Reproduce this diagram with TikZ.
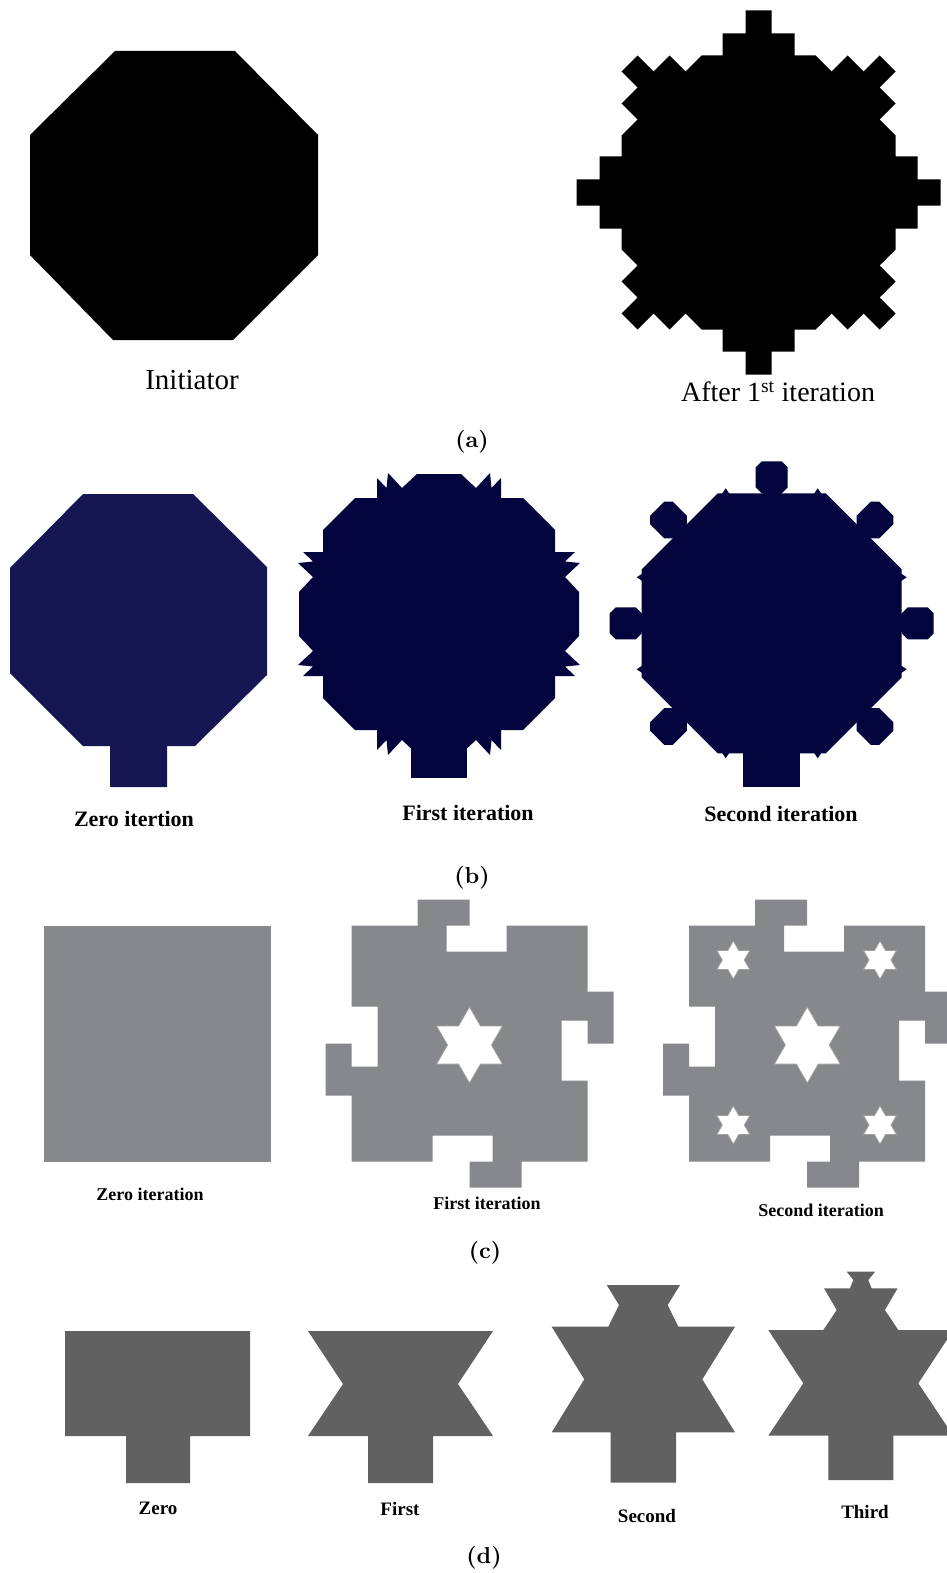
\documentclass[tikz,border=0pt]{standalone}
\usepackage{fontspec}
\newfontfamily\timesf{Liberation Serif}
\newfontfamily\lmbold{lmroman10-bold.otf}
\definecolor{navyzero}{RGB}{22,22,82}
\definecolor{navydeep}{RGB}{3,3,62}
\definecolor{puzzlegrey}{RGB}{135,136,139}
\definecolor{treegrey}{RGB}{97,97,97}
\begin{document}
\begin{tikzpicture}[x=1pt,y=-1pt,
  txt/.style={inner sep=0pt, font=\timesf\fontsize{#1}{#1}\selectfont},
  btxt/.style={inner sep=0pt, font=\timesf\bfseries\fontsize{#1}{#1}\selectfont},
  panel/.style={inner sep=0pt, font=\lmbold\fontsize{23}{26}\selectfont},
  hexstar/.pic={
    \filldraw[fill=white, draw=gray!75, line width=0.7pt]
      (0,-38) -- (10.97,-19) -- (32.91,-19) -- (21.94,0) -- (32.91,19) -- (10.97,19)
      -- (0,38) -- (-10.97,19) -- (-32.91,19) -- (-21.94,0) -- (-32.91,-19) -- (-10.97,-19) -- cycle;
  },
  puzzle/.pic={
    \fill[puzzlegrey]
      (-118,-118) -- (-52,-118) -- (-52,-144) -- (0,-144) -- (0,-118) -- (-23,-118) -- (-23,-92) -- (37,-92) -- (37,-118) -- (118,-118)
      -- (118,-52) -- (144,-52) -- (144,0) -- (118,0) -- (118,-23) -- (92,-23) -- (92,37) -- (118,37) -- (118,118)
      -- (52,118) -- (52,144) -- (0,144) -- (0,118) -- (23,118) -- (23,92) -- (-37,92) -- (-37,118) -- (-118,118)
      -- (-118,52) -- (-144,52) -- (-144,0) -- (-118,0) -- (-118,23) -- (-92,23) -- (-92,-37) -- (-118,-37) -- cycle;
  },
  knob/.pic={
    \fill[navydeep] (-9,-146) rectangle (9,-124);
    \fill[navydeep] (-10,-162) -- (10,-162) -- (16,-156) -- (16,-136) -- (10,-130) -- (-10,-130) -- (-16,-136) -- (-16,-156) -- cycle;
  }
]
\useasboundingbox (0,0) rectangle (947,1573);
\fill[white] (0,0) rectangle (947,1573);

% ---------------- (a) ----------------
\fill[black] (115,51) -- (235,51) -- (318,135) -- (318,255) -- (233,340) -- (113,340) -- (30,255) -- (30,135) -- cycle;

\begin{scope}[shift={(758.5,192.5)}]
\fill[black]
  (0,-182) -- (13,-182) -- (13,-159) -- (36,-159) -- (36,-137) -- (57,-137) -- (73,-121) -- (89,-137) -- (105,-121) -- (121,-137)
  -- (137,-121) -- (121,-105) -- (137,-89) -- (121,-73) -- (137,-57) -- (137,-36) -- (159,-36) -- (159,-13) -- (182,-13)
  -- (182,0) -- (182,13) -- (159,13) -- (159,36) -- (137,36) -- (137,57) -- (121,73) -- (137,89) -- (121,105) -- (137,121)
  -- (121,137) -- (105,121) -- (89,137) -- (73,121) -- (57,137) -- (36,137) -- (36,159) -- (13,159) -- (13,182)
  -- (0,182) -- (-13,182) -- (-13,159) -- (-36,159) -- (-36,137) -- (-57,137) -- (-73,121) -- (-89,137) -- (-105,121) -- (-121,137)
  -- (-137,121) -- (-121,105) -- (-137,89) -- (-121,73) -- (-137,57) -- (-137,36) -- (-159,36) -- (-159,13) -- (-182,13)
  -- (-182,0) -- (-182,-13) -- (-159,-13) -- (-159,-36) -- (-137,-36) -- (-137,-57) -- (-121,-73) -- (-137,-89) -- (-121,-105) -- (-137,-121)
  -- (-121,-137) -- (-105,-121) -- (-89,-137) -- (-73,-121) -- (-57,-137) -- (-36,-137) -- (-36,-159) -- (-13,-159) -- (-13,-182) -- cycle;
\end{scope}

\node[txt=29] (initiator) at (192,380) {Initiator};
\node[txt=28] (afterfirst) at (778,392) {After 1\textsuperscript{st} iteration};
\node[panel] (pa) at (472,442) {(a)};

% ---------------- (b) ----------------
\fill[navyzero] (83,494) -- (193,494) -- (267,567) -- (267,675) -- (195,746) -- (167,746) -- (167,787) -- (110,787) -- (110,746)
  -- (83,746) -- (10,673) -- (10,568) -- cycle;

\begin{scope}[shift={(439,614)}]
\fill[navydeep]
  (0,-140) -- (22,-140) -- (37,-126) -- (51,-141) -- (52.5,-126) -- (62,-136) -- (62,-116) -- (84,-116) -- (116,-84)
  -- (116,-62) -- (136,-62) -- (126,-52.5) -- (141,-51) -- (126,-37) -- (140,-22)
  -- (140,0) -- (140,22) -- (126,37) -- (141,51) -- (126,52.5) -- (136,62) -- (116,62) -- (116,84) -- (84,116)
  -- (62,116) -- (62,136) -- (52.5,126) -- (51,141) -- (37,126) -- (22,140)
  -- (0,140) -- (-22,140) -- (-37,126) -- (-51,141) -- (-52.5,126) -- (-62,136) -- (-62,116) -- (-84,116) -- (-116,84)
  -- (-116,62) -- (-136,62) -- (-126,52.5) -- (-141,51) -- (-126,37) -- (-140,22)
  -- (-140,0) -- (-140,-22) -- (-126,-37) -- (-141,-51) -- (-126,-52.5) -- (-136,-62) -- (-116,-62) -- (-116,-84) -- (-84,-116)
  -- (-62,-116) -- (-62,-136) -- (-52.5,-126) -- (-51,-141) -- (-37,-126) -- (-22,-140) -- cycle;
\fill[navydeep] (-28,100) rectangle (28,164);
\end{scope}

\begin{scope}[shift={(771.7,623.3)}]
\fill[navydeep] (-54,-130) -- (54,-130) -- (130,-54) -- (130,54) -- (54,130) -- (-54,130) -- (-130,54) -- (-130,-54) -- cycle;
\foreach \a in {0,90,180,270}{
  \fill[navydeep, rotate=\a] (42,-129) -- (46,-135) -- (50,-129) -- cycle;
  \fill[navydeep, rotate=\a] (-42,-129) -- (-46,-135) -- (-50,-129) -- cycle;
}
\foreach \a in {0,45,90,135,225,270,315}{
  \pic[rotate=\a] at (0,0) {knob};
}
\fill[navydeep] (-28.5,100) rectangle (28.5,163.5);
\end{scope}

\node[btxt=22] (bzero) at (134,819) {Zero itertion};
\node[btxt=22] (bfirst) at (468,813) {First iteration};
\node[btxt=22] (bsecond) at (781,814) {Second iteration};
\node[panel] (pb) at (472,878) {(b)};

% ---------------- (c) ----------------
\fill[puzzlegrey] (44,926) rectangle (271,1162);
\pic at (469.5,1043.5) {puzzle};
\pic at (469.5,1045) {hexstar};
\pic at (807.2,1043.7) {puzzle};
\pic at (807.3,1045) {hexstar};
\pic[scale=0.5] at (733.3,960) {hexstar};
\pic[scale=0.5] at (880,960) {hexstar};
\pic[scale=0.5] at (733.3,1125) {hexstar};
\pic[scale=0.5] at (880,1125) {hexstar};

\node[btxt=18] (czero) at (150,1194) {Zero iteration};
\node[btxt=18] (cfirst) at (487,1203) {First iteration};
\node[btxt=18] (csecond) at (821,1210) {Second iteration};
\node[panel] (pc) at (485,1253) {(c)};

% ---------------- (d) ----------------
\fill[treegrey] (65,1331) -- (250,1331) -- (250,1436) -- (190,1436) -- (190,1483) -- (126,1483) -- (126,1436) -- (65,1436) -- cycle;
\fill[treegrey] (308,1331) -- (493,1331) -- (458,1384) -- (493,1436) -- (433,1436) -- (433,1483) -- (368,1483) -- (368,1436)
  -- (308,1436) -- (343,1384) -- cycle;
\fill[treegrey] (551.7,1326.7) -- (608.3,1326.7) -- (619,1305) -- (606.7,1285) -- (680,1285) -- (667.7,1305) -- (678.3,1326.7)
  -- (735,1326.7) -- (702.3,1379.3) -- (735,1432.3) -- (676,1432.3) -- (676,1482.7) -- (610.7,1482.7) -- (610.7,1432.3)
  -- (551.7,1432.3) -- (584.3,1379.3) -- cycle;
\fill[treegrey] (768.3,1330) -- (823.3,1330) -- (836.7,1310) -- (824,1288.3) -- (850,1288.3) -- (853.3,1280) -- (846.7,1271.7)
  -- (875,1271.7) -- (868.3,1280) -- (871.6,1288.3) -- (897.6,1288.3) -- (884.9,1310) -- (898.3,1330) -- (953.3,1330)
  -- (918.3,1383.3) -- (953.3,1435.7) -- (893.3,1435.7) -- (893.3,1480) -- (828.3,1480) -- (828.3,1435.7) -- (768.3,1435.7)
  -- (803.3,1383.3) -- cycle;

\node[btxt=19] (dzero) at (158,1508) {Zero};
\node[btxt=19] (dfirst) at (400,1509) {First};
\node[btxt=19] (dsecond) at (647,1516) {Second};
\node[btxt=19] (dthird) at (865,1512) {Third};
\node[panel] (pd) at (484,1558) {(d)};
\end{tikzpicture}
\end{document}
